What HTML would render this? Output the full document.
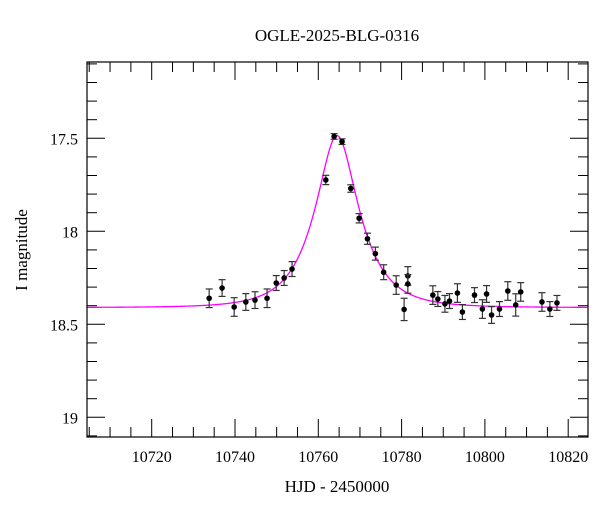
<!DOCTYPE html>
<html><head><meta charset="utf-8"><style>
body{margin:0;background:#fff;}
svg{font-family:"Liberation Serif","DejaVu Serif",serif;}
</style></head><body>
<svg width="600" height="512" xmlns="http://www.w3.org/2000/svg">
<text x="337" y="41" text-anchor="middle" font-size="17">OGLE-2025-BLG-0316</text>
<text x="337" y="492" text-anchor="middle" font-size="17">HJD - 2450000</text>
<text transform="translate(27,250) rotate(-90)" text-anchor="middle" font-size="17">I magnitude</text>
<g id="axes"></g><g id="model"></g><g id="pts"></g>
<rect x="87" y="62" width="501" height="375" fill="none" stroke="#000" stroke-width="1.2"/>
</svg>
<script>
const times=[10733.8,10736.9,10739.8,10742.6,10744.8,10747.7,10749.9,10751.8,10753.7,10761.8,10763.8,10765.7,10767.8,10769.8,10771.8,10773.7,10775.7,10778.7,10780.6,10781.5,10781.5,10787.5,10788.7,10790.4,10791.5,10793.4,10794.6,10797.5,10799.4,10800.4,10801.6,10803.5,10805.5,10807.4,10808.6,10813.7,10815.6,10817.3];
const mags=[18.36,18.305,18.407,18.38,18.37,18.36,18.278,18.251,18.203,17.724,17.49,17.518,17.77,17.93,18.04,18.12,18.22,18.289,18.42,18.24,18.283,18.343,18.364,18.39,18.375,18.332,18.434,18.343,18.418,18.337,18.45,18.418,18.321,18.396,18.326,18.38,18.418,18.385];
const errs=[0.05,0.045,0.05,0.045,0.045,0.05,0.04,0.04,0.04,0.025,0.015,0.015,0.02,0.025,0.03,0.035,0.04,0.05,0.06,0.05,0.05,0.05,0.04,0.045,0.04,0.05,0.04,0.04,0.05,0.045,0.045,0.04,0.05,0.06,0.05,0.05,0.04,0.04];
const xTicks=[10720,10740,10760,10780,10800,10820];
const yTicks=[17.5,18,18.5,19];
const model={t0:10764.5,u0:0.46,tE:9.4,base:18.41};
const NS="http://www.w3.org/2000/svg";
const X=t=>151.7+(t-10720)*4.165;
const Y=m=>138.3+(m-17.5)*186;
function mk(tag,a,parent){const e=document.createElementNS(NS,tag);for(const k in a)e.setAttribute(k,a[k]);document.getElementById(parent).appendChild(e);return e;}
for(let t=10705;t<=10825;t+=5){const x=X(t);if(x<87||x>588)continue;const maj=(t%20===0);const L=maj?18:10;
const a=mk('line',{x1:x,x2:x,y1:437,y2:437-L,stroke:'#000'},'axes');
const b=mk('line',{x1:x,x2:x,y1:62,y2:62+L,stroke:'#000'},'axes');}
xTicks.forEach(t=>{const e=mk('text',{x:X(t),y:462,'text-anchor':'middle','font-size':16},'axes');e.textContent=t;});
for(let i=0;i<=21;i++){const m=17.1+i*0.1;const y=Y(m);if(y<62||y>437)continue;const maj=Math.abs(m*2-Math.round(m*2))<1e-6;const L=maj?18:10;
const a=mk('line',{x1:87,x2:87+L,y1:y,y2:y,stroke:'#000'},'axes');
const b=mk('line',{x1:588,x2:588-L,y1:y,y2:y,stroke:'#000'},'axes');}
yTicks.forEach(m=>{const e=mk('text',{x:78,y:Y(m)+6,'text-anchor':'end','font-size':16},'axes');e.textContent=m;});
let d='';for(let t=10704.5;t<=10824.7;t+=0.1){const tau=(t-model.t0)/model.tE;const u=Math.sqrt(model.u0*model.u0+tau*tau);const A=(u*u+2)/(u*Math.sqrt(u*u+4));const m=model.base-2.5*Math.log10(A);d+=(d?'L':'M')+X(t).toFixed(2)+','+Y(m).toFixed(2);}
const p=mk('path',{d:d,fill:'none',stroke:'#ff00ff','stroke-width':1.3},'model');
times.forEach((t,i)=>{const x=X(t),y=Y(mags[i]),e=errs[i]*186;
const g=mk('g',{},'pts');
const mkc=(tag,a)=>{const el=document.createElementNS(NS,tag);for(const k in a)el.setAttribute(k,a[k]);g.appendChild(el);};
mkc('line',{x1:x,x2:x,y1:y-e,y2:y+e,stroke:'#333','stroke-width':1.2});
mkc('line',{x1:x-3.5,x2:x+3.5,y1:y-e,y2:y-e,stroke:'#333','stroke-width':1.2});
mkc('line',{x1:x-3.5,x2:x+3.5,y1:y+e,y2:y+e,stroke:'#333','stroke-width':1.2});
mkc('circle',{cx:x,cy:y,r:2.8,fill:'#000'});});
</script>
</body></html>
